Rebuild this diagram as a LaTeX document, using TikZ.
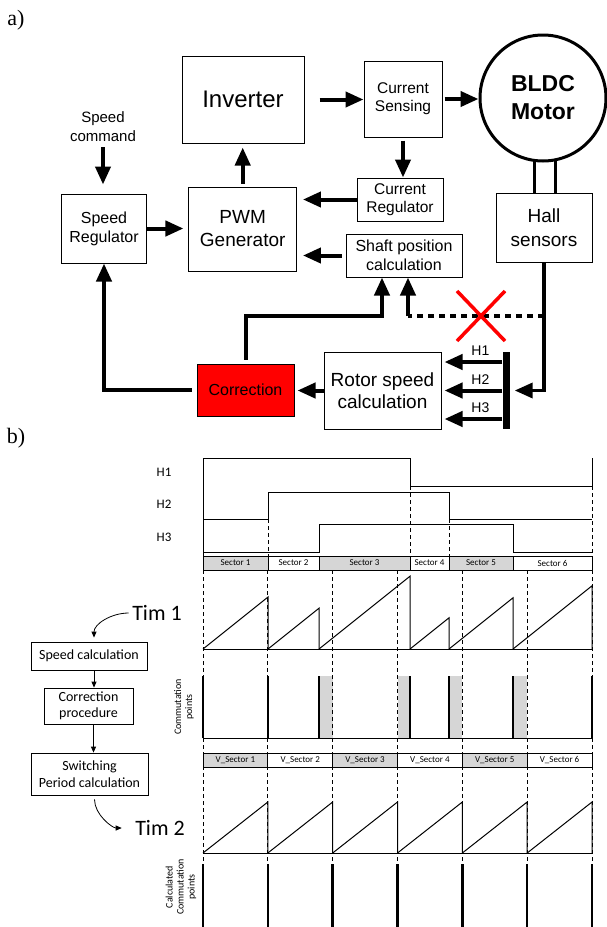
\documentclass[tikz,border=0pt]{standalone}
\usepackage{fontspec}
\setmainfont{Liberation Sans}
\newfontfamily\serifletter{Liberation Serif}
\newfontfamily\calibri{Carlito}
\usetikzlibrary{arrows.meta}
\definecolor{cellgray}{HTML}{D6D6D6}

\begin{document}
\begin{tikzpicture}[x=1pt,y=-1pt,>={Triangle[length=18pt,width=15pt]},
    blk/.style={draw,line width=1pt,align=center,inner sep=0pt},
    bigarrow/.style={->,line width=4pt},
    wave/.style={line width=1pt},
    vline/.style={dash pattern=on 4pt off 3pt,line width=0.8pt},
    comm/.style={line width=2.5pt},
    cell/.style={draw,line width=0.8pt,minimum height=14pt,inner sep=0pt,font=\calibri\fontsize{9}{10}\selectfont},
    fbox/.style={draw,line width=0.8pt,align=center,inner sep=0pt,font=\calibri\fontsize{14}{16.5}\selectfont},
    smallarrow/.style={-{Triangle[length=6pt,width=5pt]},line width=0.8pt}]
\useasboundingbox (0,0) rectangle (607,927);

% a) block diagram
\node[font=\serifletter\fontsize{22}{24}\selectfont] (parta) at (16,20) {a)};
\node[blk,minimum width=122pt,minimum height=87pt,font=\fontsize{24}{28}\selectfont] (inverter) at (243,99.5) {Inverter};
\node[blk,minimum width=78pt,minimum height=76pt,font=\fontsize{15.5}{18}\selectfont] (cursens) at (403,99) {Current\\Sensing};
\node[draw,circle,line width=3pt,minimum size=126pt,inner sep=0pt,align=center,font=\bfseries\fontsize{23}{28}\selectfont] (motor) at (543,98) {BLDC\\Motor};
\node[blk,minimum width=86pt,minimum height=43pt,font=\fontsize{15.5}{18}\selectfont] (curreg) at (400,199.5) {Current\\Regulator};
\node[blk,minimum width=107.5pt,minimum height=84pt,font=\fontsize{19}{23}\selectfont] (pwm) at (242.7,229) {PWM\\Generator};
\node[blk,minimum width=84.5pt,minimum height=69pt,font=\fontsize{16}{19}\selectfont] (speedreg) at (104,228.5) {Speed\\Regulator};
\node[blk,minimum width=116pt,minimum height=43pt,font=\fontsize{16}{19}\selectfont] (shaft) at (404,255.5) {Shaft position\\calculation};
\node[blk,minimum width=96pt,minimum height=69pt,font=\fontsize{19}{24}\selectfont] (hall) at (544,227.5) {Hall\\sensors};
\node[blk,fill=red,minimum width=97pt,minimum height=52pt,font=\fontsize{16}{19}\selectfont] (correction) at (245.5,390) {Correction};
\node[blk,minimum width=117pt,minimum height=77pt,font=\fontsize{19}{22}\selectfont] (rotor) at (382.5,390.5) {Rotor speed\\calculation};
\node[fill,minimum width=7pt,minimum height=77pt,inner sep=0pt] (bar) at (506,390.5) {};
\node[align=center,font=\fontsize{15}{19}\selectfont] (speedcmd) at (103,126.5) {Speed\\command};
\coordinate (cj) at (382,316);
\coordinate (dj) at (408,316);
\coordinate (cross) at (481,316);

\draw[bigarrow,shorten <=15pt] (inverter.east) -- (inverter.east -| cursens.west);
\draw[bigarrow,shorten <=2pt] (cursens.east) -- (cursens.east -| motor.west);
\draw[bigarrow,shorten <=3pt] (cursens.south) -- (cursens.south |- curreg.north);
\draw[bigarrow,shorten >=6pt] (curreg.west) -- (curreg.west -| pwm.east);
\draw[bigarrow,shorten <=3pt,shorten >=4pt] (pwm.north) -- (pwm.north |- inverter.south);
\draw[bigarrow,shorten <=2pt,shorten >=9pt] (speedcmd.south) -- (speedcmd.south |- speedreg.north);
\draw[bigarrow,shorten >=5pt] (speedreg.east) -- (speedreg.east -| pwm.west);
\draw[bigarrow,shorten <=4pt,shorten >=6pt] (shaft.west) -- (shaft.west -| pwm.east);
\draw[bigarrow,shorten >=3pt] (rotor.west) -- (rotor.west -| correction.east);
\draw[bigarrow,shorten <=5pt] (correction.west) -| (speedreg.south);
\draw[bigarrow,shorten <=4pt] (correction.north) |- (cj) -- (cj |- shaft.south);
\draw[bigarrow,line width=3.5pt,shorten >=5pt] (hall.south) |- (bar.east);
\draw[line width=3.5pt,dash pattern=on 6pt off 5pt] (hall.south |- dj) -- (dj);
\draw[bigarrow] (dj) -- (dj |- shaft.south);
\draw[line width=3pt] (motor.262) -- (motor.262 |- hall.north);
\draw[line width=3pt] (motor.281) -- (motor.281 |- hall.north);
\draw[red,line width=3.5pt] (cross) ++(-24,-25) -- ++(48,50)
    (cross) ++(-24,25) -- ++(48,-50);
\foreach \h/\dy in {1/28.5,2/0,3/-28.5}
    \draw[bigarrow,shorten >=3pt] ([yshift=\dy pt]bar.west) -- ([yshift=\dy pt]bar.west -| rotor.east)
        node[pos=0.36,above=1pt,font=\fontsize{14}{16}\selectfont] (lh\h) {H\h};

% b) timing diagram
\node[font=\serifletter\fontsize{22}{24}\selectfont] (partb) at (16,438) {b)};
\foreach \k/\y in {1/472,2/504,3/537}
    \node[font=\calibri\fontsize{13}{15}\selectfont] (hlbl\k) at (164,\y) {H\k};
\draw[wave] (203,458) -- (203,556);
\draw[wave] (203,458) -- (410,458) -- (410,486) -- (592,486) -- (592,458);
\draw[wave] (203,519) -- (268,519) -- (268,492) -- (449,492) -- (449,519) -- (592,519);
\draw[wave] (203,552) -- (319,552) -- (319,524) -- (513,524) -- (513,552) -- (592,552);
\foreach \x/\y in {268/519,410/486,449/519,592/486}
    \draw[vline] (\x,\y) -- (\x,556);
\foreach \a/\b/\n/\c in {203/268/1/cellgray,268/319/2/white,319/410/3/cellgray,410/449/4/white,449/513/5/cellgray,513/592/6/white}
    \node[cell,fill=\c,minimum width={\b-\a}] (sec\n) at ({(\a+\b)/2},563) {Sector \n};

% commutation windows
\foreach \a/\b in {319/332.7,397.5/410,449/462.3,513/527.2}
    \fill[cellgray] (\a,676) rectangle (\b,738);
\foreach \k in {0,...,6}
    \draw[vline] ({203+\k*64.833},570) -- ({203+\k*64.833},927);

% Tim 1
\draw[wave] (203,649) -- (592,649);
\foreach \a/\b in {203/268,268/319,319/410,410/449,449/513,513/592}
    \draw[wave] (\a,649) -- (\b,{649-0.8*(\b-\a)}) -- (\b,649);
\foreach \x in {203,268,319,410,449,513,592}
    \draw[comm] (\x,676) -- (\x,738);
\draw[wave] (203,738) -- (592,738);
\node[rotate=90,align=center,font=\calibri\fontsize{10}{11}\selectfont] (commlbl) at (184,707) {Commutation\\points};

\foreach \k/\c in {1/cellgray,2/white,3/cellgray,4/white,5/cellgray,6/white}
    \node[cell,fill=\c,minimum width=64.833pt] (vsec\k) at ({203+(\k-0.5)*64.833},760) {V\_Sector \k};

% Tim 2
\draw[wave] (203,853) -- (592,853);
\foreach \k in {0,...,5}
    \draw[wave] ({203+\k*64.833},853) -- ({203+(\k+1)*64.833},802) -- ({203+(\k+1)*64.833},853);
\foreach \k in {0,...,6}
    \draw[comm] ({203+\k*64.833},864) -- ({203+\k*64.833},927);
\node[rotate=90,align=center,font=\calibri\fontsize{10}{11}\selectfont] (calclbl) at (181,887) {Calculated\\Commutation\\points};

% left flow
\node[font=\calibri\fontsize{22}{24}\selectfont] (tim1) at (157,613) {Tim 1};
\node[font=\calibri\fontsize{22}{24}\selectfont] (tim2) at (160,828) {Tim 2};
\node[fbox,minimum width=116pt,minimum height=28pt] (speedcalc) at (89,656) {Speed calculation};
\node[fbox,minimum width=89pt,minimum height=36pt] (corrproc) at (88.5,706) {Correction\\procedure};
\node[fbox,minimum width=117pt,minimum height=42pt] (switching) at (89.5,774) {Switching\\Period calculation};
\draw[smallarrow,shorten >=4pt] (tim1.west) to[out=180,in=90] ([xshift=5pt]speedcalc.north);
\draw[smallarrow] ([xshift=5pt]speedcalc.south) -- ([xshift=5pt]speedcalc.south |- corrproc.north);
\draw[smallarrow] ([xshift=5pt]corrproc.south) -- ([xshift=5pt]corrproc.south |- switching.north);
\draw[smallarrow,shorten <=4pt,shorten >=10pt] ([xshift=5pt]switching.south) to[out=270,in=180] (tim2.west);
\end{tikzpicture}
\end{document}
